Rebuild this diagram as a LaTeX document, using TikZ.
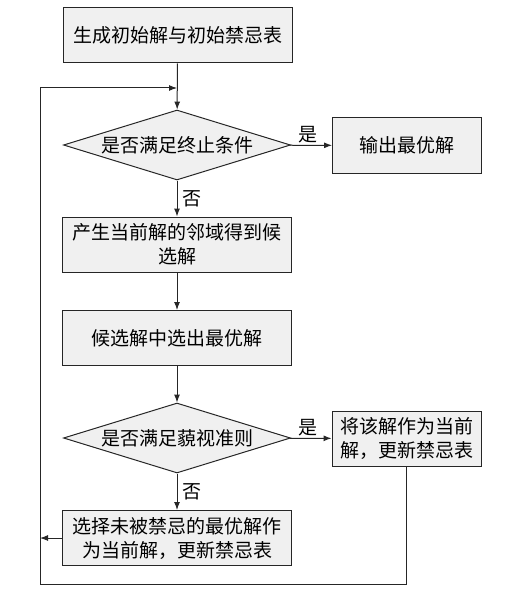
\documentclass[tikz,border=0pt]{standalone}
\usepackage{fontspec}
\setmainfont{Noto Sans CJK SC}
\usetikzlibrary{shapes.geometric,arrows.meta}
\begin{document}
\begin{tikzpicture}[x=1pt, y=-1pt,
box/.style={draw=black!85, fill=black!6, line width=1pt, minimum width=229pt, minimum height=55pt, inner sep=2pt, align=center, font=\fontsize{19}{24}\selectfont},
sidebox/.style={box, minimum width=149pt},
choice/.style={diamond, aspect=3.24, draw=black!85, fill=black!6, line width=1pt, minimum width=227pt, minimum height=70pt, inner sep=0pt, font=\fontsize{19}{24}\selectfont},
line/.style={line width=1pt, draw=black!85, -{Latex[length=8pt,width=6pt]}},
tag/.style={font=\fontsize{19}{24}\selectfont, inner sep=2pt}]
\useasboundingbox (0,0) rectangle (506,591);
\node[box] (init) at (177.5,35.5) {生成初始解与初始禁忌表};
\node[choice] (stop) at (177,145) {是否满足终止条件};
\node[sidebox] (output) at (407,145.5) {输出最优解};
\node[box] (neigh) at (177,244.5) {产生当前解的邻域得到候\\选解};
\node[box] (best) at (177,338) {候选解中选出最优解};
\node[choice] (aspire) at (177,438) {是否满足藐视准则};
\node[sidebox] (accept) at (406.5,438.5) {将该解作为当前\\解，更新禁忌表};
\node[box] (update) at (177,538) {选择未被禁忌的最优解作\\为当前解，更新禁忌表};
\coordinate (join) at (177,88);
\coordinate (corner) at (40,584);
% main flow
\draw[line] (init) -- (stop);
\draw[line] (stop) -- node[tag, above, xshift=-3pt] {是} (output);
\draw[line] (stop) -- node[tag, right, xshift=3pt] {否} (neigh);
\draw[line] (neigh) -- (best);
\draw[line] (best) -- (aspire);
\draw[line] (aspire) -- node[tag, above, xshift=-3pt] {是} (accept);
\draw[line] (aspire) -- node[tag, right, xshift=3pt] {否} (update);
% loop back
\draw[line] (update.west) -- (update.west -| corner);
\draw[line] (accept.south) |- (corner) |- (join);
\end{tikzpicture}
\end{document}
